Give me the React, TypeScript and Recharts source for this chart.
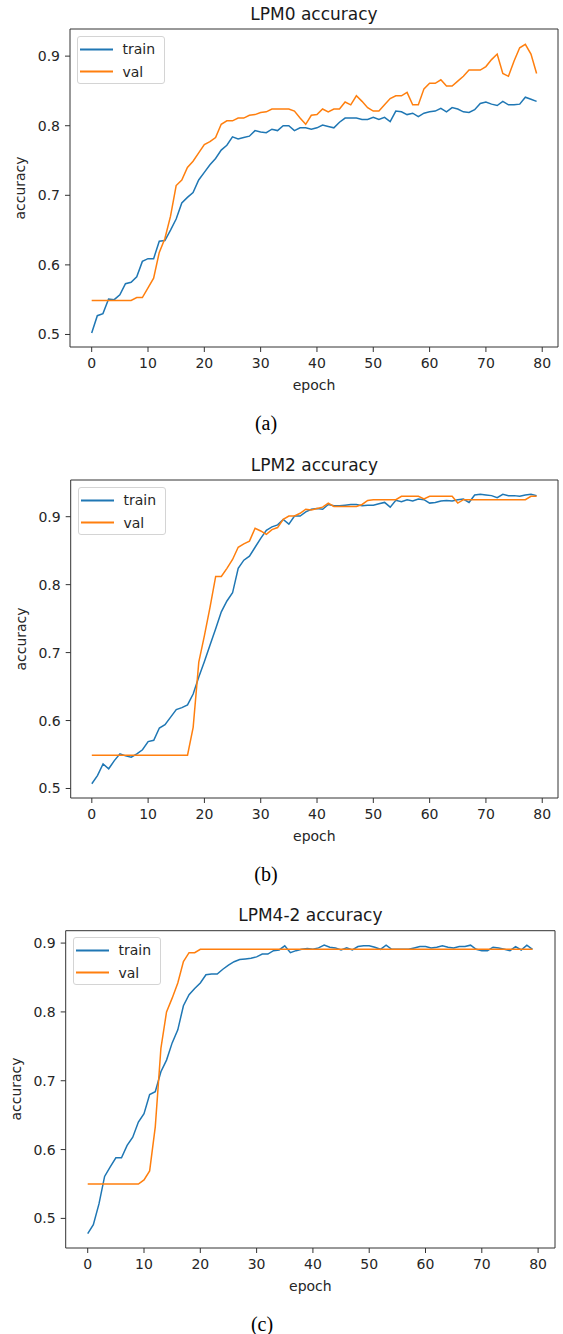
import React from 'react';
import { LineChart, Line, XAxis, YAxis, ReferenceArea } from 'recharts';

const FONT = '"DejaVu Sans", sans-serif';
const SERIF = '"Liberation Serif", "Times New Roman", serif';

const xTicks = [0, 10, 20, 30, 40, 50, 60, 70, 80];
const yTicks = [0.5, 0.6, 0.7, 0.8, 0.9];
const seriesNames = ['train', 'val'];
const seriesColors = ['#1f77b4', '#ff7f0e'];

const titleA = 'LPM0 accuracy';
const titleB = 'LPM2 accuracy';
const titleC = 'LPM4-2 accuracy';

const trainA = [
  0.502, 0.527, 0.530, 0.551, 0.550, 0.557, 0.573, 0.575, 0.583, 0.605,
  0.609, 0.609, 0.634, 0.635, 0.650, 0.666, 0.689, 0.697, 0.704, 0.722,
  0.733, 0.744, 0.753, 0.765, 0.772, 0.784, 0.781, 0.783, 0.785, 0.793,
  0.791, 0.790, 0.795, 0.793, 0.800, 0.800, 0.793, 0.797, 0.797, 0.795,
  0.797, 0.801, 0.799, 0.797, 0.805, 0.811, 0.811, 0.811, 0.809, 0.809,
  0.812, 0.809, 0.812, 0.806, 0.821, 0.820, 0.816, 0.818, 0.813, 0.818,
  0.820, 0.821, 0.825, 0.820, 0.826, 0.824, 0.820, 0.819, 0.823, 0.832,
  0.834, 0.831, 0.829, 0.835, 0.830, 0.830, 0.831, 0.841, 0.838, 0.835,
];
const valA = [
  0.549, 0.549, 0.549, 0.549, 0.549, 0.549, 0.549, 0.549, 0.553, 0.553,
  0.567, 0.581, 0.618, 0.638, 0.670, 0.714, 0.722, 0.740, 0.749, 0.761,
  0.773, 0.777, 0.783, 0.802, 0.807, 0.807, 0.811, 0.811, 0.815, 0.816,
  0.819, 0.820, 0.824, 0.824, 0.824, 0.824, 0.821, 0.811, 0.802, 0.815,
  0.816, 0.824, 0.820, 0.824, 0.824, 0.834, 0.830, 0.843, 0.835, 0.826,
  0.821, 0.821, 0.830, 0.839, 0.843, 0.843, 0.848, 0.830, 0.830, 0.853,
  0.861, 0.861, 0.866, 0.857, 0.857, 0.864, 0.871, 0.880, 0.880, 0.880,
  0.885, 0.895, 0.903, 0.875, 0.871, 0.893, 0.912, 0.917, 0.903, 0.875,
];

const trainB = [
  0.507, 0.519, 0.536, 0.529, 0.541, 0.551, 0.548, 0.546, 0.551, 0.557,
  0.569, 0.571, 0.589, 0.594, 0.605, 0.616, 0.619, 0.623, 0.639, 0.664,
  0.687, 0.711, 0.735, 0.760, 0.776, 0.788, 0.824, 0.836, 0.842, 0.855,
  0.868, 0.880, 0.885, 0.888, 0.896, 0.889, 0.901, 0.901, 0.907, 0.911,
  0.912, 0.911, 0.918, 0.916, 0.916, 0.917, 0.918, 0.918, 0.916, 0.917,
  0.917, 0.919, 0.921, 0.914, 0.924, 0.922, 0.925, 0.923, 0.926, 0.925,
  0.920, 0.921, 0.923, 0.924, 0.923, 0.925, 0.926, 0.921, 0.932, 0.933,
  0.932, 0.931, 0.928, 0.933, 0.931, 0.931, 0.930, 0.932, 0.933, 0.931,
];
const valB = [
  0.549, 0.549, 0.549, 0.549, 0.549, 0.549, 0.549, 0.549, 0.549, 0.549,
  0.549, 0.549, 0.549, 0.549, 0.549, 0.549, 0.549, 0.549, 0.590, 0.686,
  0.725, 0.767, 0.812, 0.812, 0.824, 0.837, 0.855, 0.860, 0.864, 0.883,
  0.879, 0.874, 0.881, 0.884, 0.896, 0.901, 0.901, 0.905, 0.911, 0.910,
  0.912, 0.914, 0.920, 0.915, 0.915, 0.915, 0.915, 0.915, 0.918, 0.924,
  0.925, 0.925, 0.925, 0.925, 0.925, 0.930, 0.930, 0.930, 0.930, 0.926,
  0.930, 0.930, 0.930, 0.930, 0.930, 0.920, 0.925, 0.925, 0.925, 0.925,
  0.925, 0.925, 0.925, 0.925, 0.925, 0.925, 0.925, 0.925, 0.930, 0.930,
];

const trainC = [
  0.478, 0.491, 0.521, 0.561, 0.575, 0.588, 0.588, 0.606, 0.618, 0.640,
  0.652, 0.680, 0.684, 0.713, 0.730, 0.755, 0.774, 0.809, 0.825, 0.834,
  0.842, 0.854, 0.855, 0.855, 0.862, 0.868, 0.873, 0.876, 0.877, 0.878,
  0.880, 0.884, 0.884, 0.889, 0.890, 0.896, 0.886, 0.889, 0.891, 0.892,
  0.891, 0.893, 0.897, 0.894, 0.893, 0.890, 0.893, 0.890, 0.895, 0.896,
  0.896, 0.894, 0.891, 0.897, 0.891, 0.891, 0.891, 0.891, 0.893, 0.895,
  0.895, 0.893, 0.894, 0.896, 0.894, 0.893, 0.895, 0.895, 0.897, 0.891,
  0.889, 0.889, 0.894, 0.893, 0.891, 0.889, 0.895, 0.890, 0.897, 0.891,
];
const valC = [
  0.550, 0.550, 0.550, 0.550, 0.550, 0.550, 0.550, 0.550, 0.550, 0.550,
  0.556, 0.569, 0.633, 0.747, 0.800, 0.820, 0.842, 0.873, 0.886, 0.886,
  0.891, 0.891, 0.891, 0.891, 0.891, 0.891, 0.891, 0.891, 0.891, 0.891,
  0.891, 0.891, 0.891, 0.891, 0.891, 0.891, 0.891, 0.891, 0.891, 0.891,
  0.891, 0.891, 0.891, 0.891, 0.891, 0.891, 0.891, 0.891, 0.891, 0.891,
  0.891, 0.891, 0.891, 0.891, 0.891, 0.891, 0.891, 0.891, 0.891, 0.891,
  0.891, 0.891, 0.891, 0.891, 0.891, 0.891, 0.891, 0.891, 0.891, 0.891,
  0.891, 0.891, 0.891, 0.891, 0.891, 0.891, 0.891, 0.891, 0.891, 0.891,
];

type PlotBox = { left: number; right: number; top: number; bottom: number };

type PanelProps = {
  title: string;
  caption: string;
  train: number[];
  val: number[];
  xDomain: [number, number];
  yDomain: [number, number];
  top: number;
  plot: PlotBox;
  captionX: number;
};

const H = 380;
const XAXIS_H = 30;

function Panel({ title, caption, train, val, xDomain, yDomain, top, plot, captionX }: PanelProps) {
  const data = train.map((t, i) => ({ epoch: i, train: t, val: val[i] }));
  const margin = {
    top: plot.top - top,
    right: 563 - plot.right,
    left: 0,
    bottom: top + H - plot.bottom - XAXIS_H,
  };
  const cx = (plot.left + plot.right) / 2;
  const cy = (plot.top + plot.bottom) / 2;
  const tickStyle = { fontSize: 14, fill: '#262626', fontFamily: FONT };
  const legLeft = Math.round(plot.left + 7);
  const legTop = Math.round(plot.top + 6.5);
  return (
    <>
      <div style={{ position: 'absolute', left: 0, top, width: 563, height: H }}>
        <LineChart width={563} height={H} data={data} margin={margin}>
          <XAxis
            type="number"
            dataKey="epoch"
            domain={xDomain}
            ticks={xTicks}
            interval={0}
            allowDataOverflow
            height={XAXIS_H}
            tickSize={5}
            tickMargin={6}
            axisLine={false}
            tickLine={{ stroke: '#333', strokeWidth: 1 }}
            tick={tickStyle}
          />
          <YAxis
            type="number"
            domain={yDomain}
            ticks={yTicks}
            interval={0}
            allowDataOverflow
            width={plot.left}
            tickSize={5}
            tickMargin={5}
            axisLine={false}
            tickLine={{ stroke: '#333', strokeWidth: 1 }}
            tick={tickStyle}
            tickFormatter={(v: number) => v.toFixed(1)}
          />
          <Line type="linear" dataKey="train" name={seriesNames[0]} stroke={seriesColors[0]} strokeWidth={1.5} dot={false} isAnimationActive={false} />
          <Line type="linear" dataKey="val" name={seriesNames[1]} stroke={seriesColors[1]} strokeWidth={1.5} dot={false} isAnimationActive={false} />
          <ReferenceArea
            x1={xDomain[0]}
            x2={xDomain[1]}
            y1={yDomain[0]}
            y2={yDomain[1]}
            fill="none"
            fillOpacity={0}
            stroke="#333"
            strokeWidth={1}
            ifOverflow="visible"
          />
        </LineChart>
      </div>
      {/* title */}
      <div
        style={{
          position: 'absolute', left: cx - 150, width: 300, top: plot.top - 9 - 14.4,
          textAlign: 'center', fontFamily: FONT, fontSize: 17, lineHeight: '17px', color: '#1a1a1a', whiteSpace: 'nowrap',
        }}
      >
        {title}
      </div>
      {/* x label */}
      <div
        style={{
          position: 'absolute', left: cx - 100, width: 200, top: plot.bottom + 42.3 - 11.8,
          textAlign: 'center', fontFamily: FONT, fontSize: 14, lineHeight: '14px', color: '#262626',
        }}
      >
        epoch
      </div>
      {/* y label */}
      <div
        style={{
          position: 'absolute', left: plot.left - 45 - 4.84 - 50, width: 100, top: cy - 7,
          textAlign: 'center', fontFamily: FONT, fontSize: 14, lineHeight: '14px', color: '#262626',
          transform: 'rotate(-90deg)', transformOrigin: '50% 50%',
        }}
      >
        accuracy
      </div>
      {/* legend */}
      <div
        style={{
          position: 'absolute', left: legLeft, top: legTop, width: 88, height: 48,
          boxSizing: 'border-box', border: '1px solid #d4d4d4', borderRadius: 3, background: 'rgba(255,255,255,0.8)',
        }}
      >
        <svg width={40} height={46} style={{ position: 'absolute', left: 0, top: 0 }}>
          {seriesNames.map((n, i) => (
            <line key={n} x1={2} x2={35} y1={12.5 + i * 22} y2={12.5 + i * 22} stroke={seriesColors[i]} strokeWidth={2} />
          ))}
        </svg>
        {seriesNames.map((n, i) => (
          <div
            key={n}
            style={{
              position: 'absolute', left: 44.5, top: 5.4 + i * 22.4, fontFamily: FONT, fontSize: 14, lineHeight: '14px',
              color: '#262626', whiteSpace: 'nowrap',
            }}
          >
            {n}
          </div>
        ))}
      </div>
      {/* caption */}
      <div
        style={{
          position: 'absolute', left: captionX - 50, width: 100, top: plot.bottom + 82.4 - 16.75,
          textAlign: 'center', fontFamily: SERIF, fontSize: 20, lineHeight: '20px', color: '#000',
        }}
      >
        {caption}
      </div>
    </>
  );
}

export default function App() {
  return (
    <div style={{ position: 'absolute', left: 0, top: 0, width: 563, height: 1334, background: '#fff', overflow: 'hidden' }}>
      <Panel
        title={titleA}
        caption="(a)"
        train={trainA}
        val={valA}
        xDomain={[-3.85, 82.8]}
        yDomain={[0.482, 0.939]}
        top={0}
        plot={{ left: 70, right: 558, top: 29, bottom: 347 }}
        captionX={266}
      />
      <Panel
        title={titleB}
        caption="(b)"
        train={trainB}
        val={valB}
        xDomain={[-3.75, 82.8]}
        yDomain={[0.486, 0.954]}
        top={450}
        plot={{ left: 70.7, right: 558, top: 480, bottom: 798 }}
        captionX={266}
      />
      <Panel
        title={titleC}
        caption="(c)"
        train={trainC}
        val={valC}
        xDomain={[-3.91, 83.0]}
        yDomain={[0.457, 0.918]}
        top={900}
        plot={{ left: 65.7, right: 555, top: 930.7, bottom: 1248 }}
        captionX={262}
      />
    </div>
  );
}
